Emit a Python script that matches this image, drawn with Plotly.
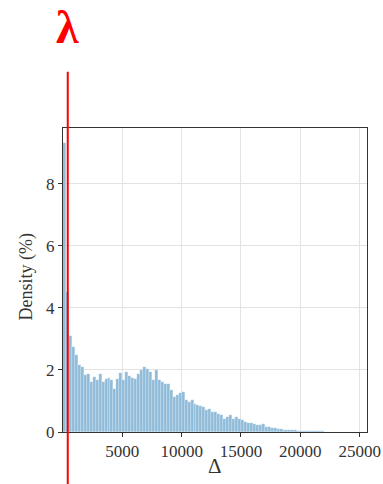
import plotly.graph_objects as go

# Histogram of Δ: bin width and percentage of samples per bin
bin_width = 250
density_pct = [
    9.33, 4.50, 3.10, 2.74, 2.47, 2.15, 2.10, 1.83, 1.88, 1.61,
    1.77, 1.67, 1.86, 1.61, 1.72, 1.75, 1.67, 1.40, 1.70, 1.90,
    1.67, 1.94, 1.80, 1.75, 1.70, 1.86, 1.99, 2.10, 2.04, 1.94,
    1.67, 1.99, 1.67, 1.61, 1.56, 1.54, 1.37, 1.13, 1.18, 1.26,
    1.29, 1.02, 0.97, 1.02, 0.91, 0.86, 0.83, 0.81, 0.70, 0.75,
    0.65, 0.65, 0.59, 0.54, 0.43, 0.48, 0.54, 0.43, 0.48, 0.43,
    0.38, 0.32, 0.29, 0.29, 0.25, 0.24, 0.21, 0.25, 0.17, 0.16,
    0.14, 0.12, 0.10, 0.09, 0.08, 0.07, 0.06, 0.05, 0.05, 0.04,
    0.04, 0.03, 0.03, 0.03, 0.02, 0.02, 0.02, 0.02, 0.015, 0.015,
    0.01, 0.01, 0.01, 0.01, 0.008, 0.006, 0.005, 0.004,
]
bin_centers = [bin_width * (i + 0.5) for i in range(len(density_pct))]

lambda_value = 400           # threshold marked by the red line
x_ticks = [5000, 10000, 15000, 20000, 25000]
x_tick_labels = [str(v) for v in x_ticks]
y_ticks = [0, 2, 4, 6, 8]
x_range = [0, 25620]
y_range = [0, 9.8]

serif = "Liberation Serif, DejaVu Serif, serif"

fig = go.Figure()
fig.add_trace(go.Bar(
    x=bin_centers,
    y=density_pct,
    width=bin_width,
    marker=dict(color="#8fbbd9",
                line=dict(color="rgba(255,255,255,0.55)", width=0.4)),
    showlegend=False,
))

# red threshold line running past the axes
fig.add_shape(type="line", xref="x", yref="paper",
              x0=lambda_value, x1=lambda_value, y0=-0.175, y1=1.185,
              line=dict(color="#ff0000", width=2), layer="above")

fig.add_annotation(text="<b>λ</b>", xref="x", yref="paper",
                   x=lambda_value, y=1.42, yanchor="top", showarrow=False,
                   font=dict(family=serif, size=46, color="#ff0000"))

fig.add_annotation(text="Density (%)", xref="paper", yref="paper",
                   x=0, y=0.51, xshift=-49, textangle=-90, showarrow=False,
                   font=dict(family=serif, size=18, color="#333333"))

fig.add_annotation(text="Δ", xref="paper", yref="paper",
                   x=0.5, y=0, yshift=-48, showarrow=False,
                   font=dict(family=serif, size=21, color="#333333"))

axis_common = dict(
    showgrid=True, gridcolor="#e3e3e3", gridwidth=1,
    showline=True, linecolor="#333333", linewidth=1, mirror=True,
    ticks="outside", ticklen=4, tickcolor="#333333",
    tickfont=dict(family=serif, size=17, color="#333333"),
    zeroline=False, automargin=False,
)

fig.update_xaxes(range=x_range, tickvals=x_ticks, ticktext=x_tick_labels,
                 **axis_common)
fig.update_yaxes(range=y_range, tickvals=y_ticks, **axis_common)

fig.update_layout(
    width=383, height=484,
    margin=dict(l=63, r=16, t=128, b=52, autoexpand=False),
    plot_bgcolor="white", paper_bgcolor="white",
    bargap=0,
)

fig.write_html("out.html")
